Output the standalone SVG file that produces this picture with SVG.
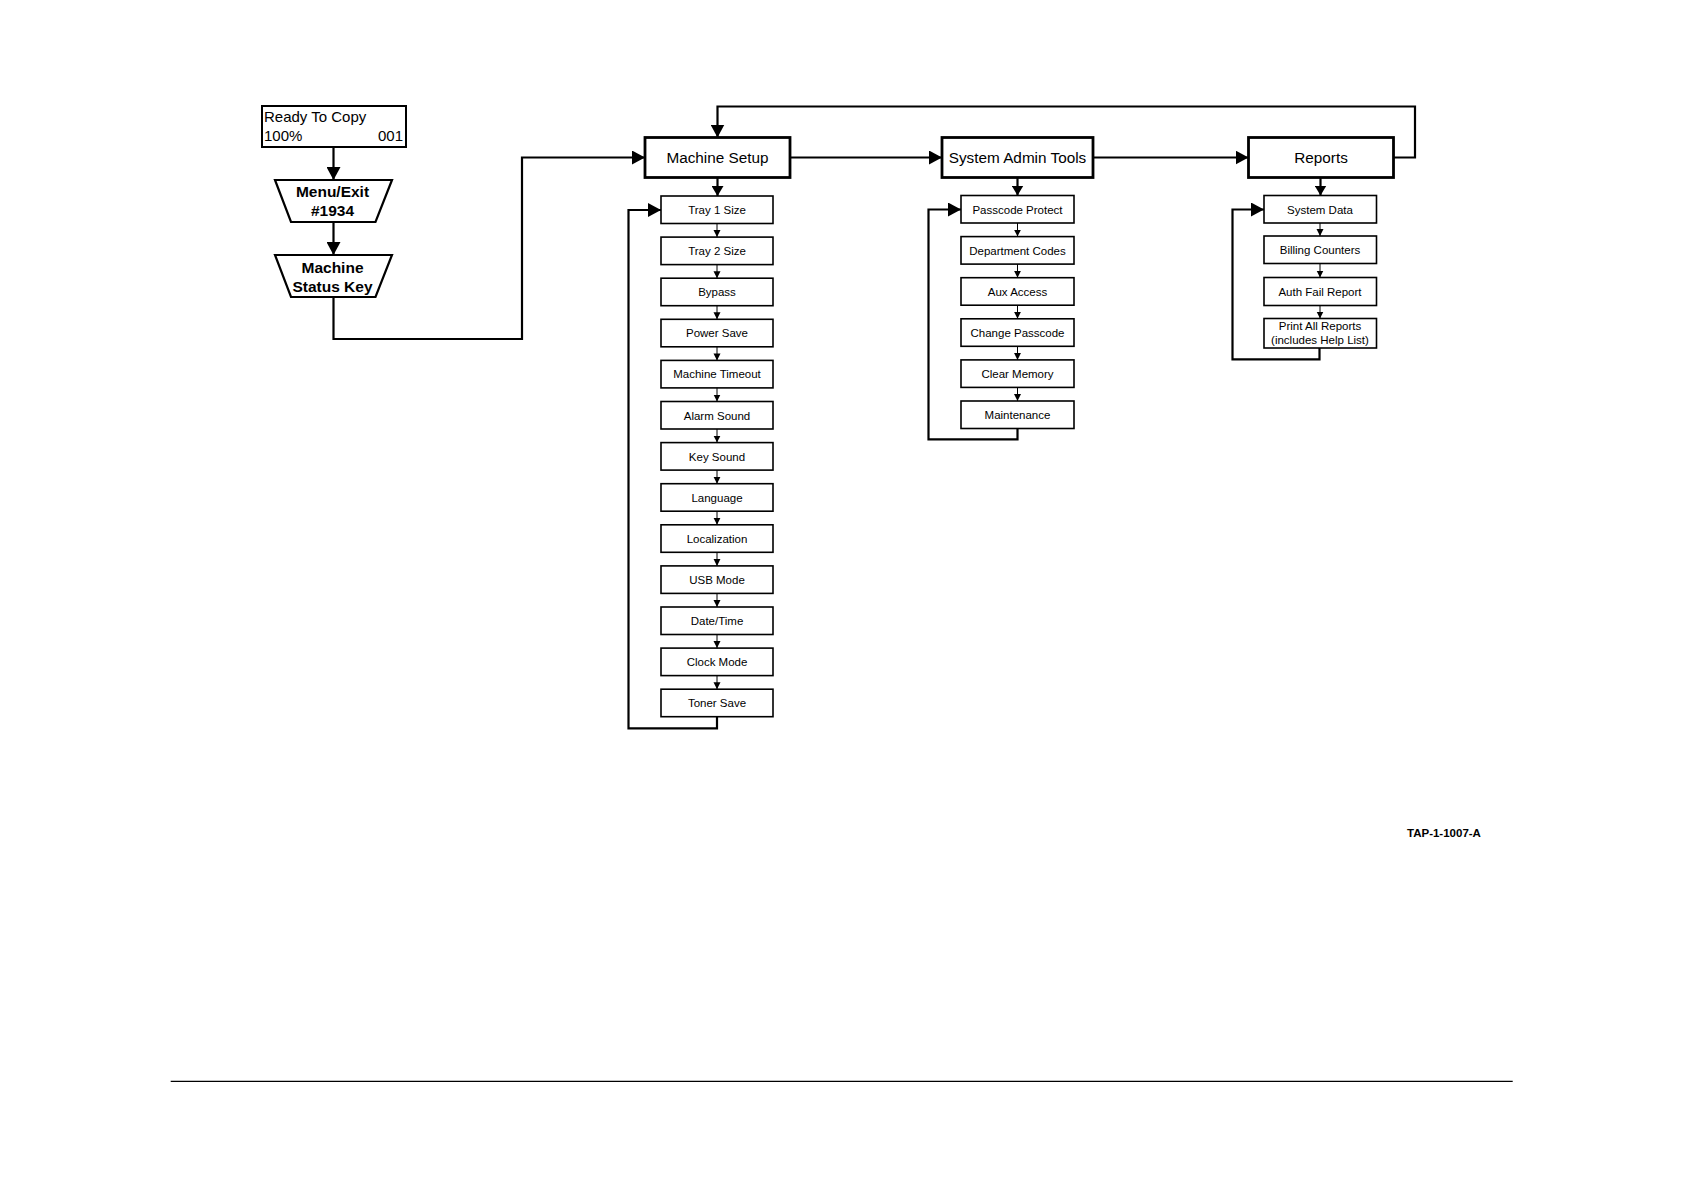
<svg xmlns="http://www.w3.org/2000/svg" width="1684" height="1190" viewBox="0 0 1684 1190">
<style>
text{font-family:"Liberation Sans",Arial,sans-serif;fill:#000}
.main rect{fill:#fff;stroke:#000;stroke-width:2.8}
.sub rect{fill:#fff;stroke:#000;stroke-width:1.6}
.sub text{font-size:11.5px;text-anchor:middle}
.main text{font-size:15.3px;text-anchor:middle}
.trap path{fill:#fff;stroke:#000;stroke-width:2.2}
.trap text{font-size:15.5px;font-weight:bold;text-anchor:middle}
.big{fill:none;stroke:#000;stroke-width:2.2;marker-end:url(#ab)}
.med{fill:none;stroke:#000;stroke-width:2.2;marker-end:url(#am)}
.sm{fill:none;stroke:#000;stroke-width:1;marker-end:url(#as)}
</style>
<defs>
<marker id="ab" markerUnits="userSpaceOnUse" markerWidth="14" markerHeight="14" refX="13" refY="7" orient="auto"><path d="M0,0 L13,7 L0,14 z" fill="#000"/></marker>
<marker id="am" markerUnits="userSpaceOnUse" markerWidth="12" markerHeight="12" refX="10" refY="6" orient="auto"><path d="M0,0 L10,6 L0,12 z" fill="#000"/></marker>
<marker id="as" markerUnits="userSpaceOnUse" markerWidth="8" markerHeight="8" refX="7" refY="3.5" orient="auto"><path d="M0,0 L7,3.5 L0,7 z" fill="#000"/></marker>
</defs>

<g id="ready">
<rect x="262" y="106" width="144" height="41" fill="#fff" stroke="#000" stroke-width="2"/>
<text x="264" y="122" font-size="15">Ready To Copy</text>
<text x="264" y="141" font-size="15">100%</text>
<text x="403" y="141" font-size="15" text-anchor="end">001</text>
</g>
<g id="menu-exit" class="trap">
<path d="M275,180 L392,180 L375.5,222 L291,222 z"/>
<text x="332.5" y="197">Menu/Exit</text>
<text x="332.5" y="216">#1934</text>
</g>
<g id="machine-status-key" class="trap">
<path d="M275,255 L392,255 L375.5,297 L291,297 z"/>
<text x="332.5" y="273">Machine</text>
<text x="332.5" y="292">Status Key</text>
</g>

<g id="machine-setup" class="main"><rect x="645" y="137.5" width="145" height="40"/><text x="717.5" y="163">Machine Setup</text></g>
<g id="system-admin-tools" class="main"><rect x="942" y="137.5" width="151" height="40"/><text x="1017.5" y="163">System Admin Tools</text></g>
<g id="reports" class="main"><rect x="1248.5" y="137.5" width="145" height="40"/><text x="1321" y="163">Reports</text></g>

<g id="ms-items" class="sub">
<g id="tray1"><rect x="661" y="196" width="112" height="27.5"/><text x="717" y="214">Tray 1 Size</text></g>
<g id="tray2"><rect x="661" y="237.1" width="112" height="27.5"/><text x="717" y="255.1">Tray 2 Size</text></g>
<g id="bypass"><rect x="661" y="278.2" width="112" height="27.5"/><text x="717" y="296.2">Bypass</text></g>
<g id="power-save"><rect x="661" y="319.3" width="112" height="27.5"/><text x="717" y="337.3">Power Save</text></g>
<g id="machine-timeout"><rect x="661" y="360.4" width="112" height="27.5"/><text x="717" y="378.4">Machine Timeout</text></g>
<g id="alarm-sound"><rect x="661" y="401.5" width="112" height="27.5"/><text x="717" y="419.5">Alarm Sound</text></g>
<g id="key-sound"><rect x="661" y="442.6" width="112" height="27.5"/><text x="717" y="460.6">Key Sound</text></g>
<g id="language"><rect x="661" y="483.7" width="112" height="27.5"/><text x="717" y="501.7">Language</text></g>
<g id="localization"><rect x="661" y="524.8" width="112" height="27.5"/><text x="717" y="542.8">Localization</text></g>
<g id="usb-mode"><rect x="661" y="565.9" width="112" height="27.5"/><text x="717" y="583.9">USB Mode</text></g>
<g id="date-time"><rect x="661" y="607" width="112" height="27.5"/><text x="717" y="625">Date/Time</text></g>
<g id="clock-mode"><rect x="661" y="648.1" width="112" height="27.5"/><text x="717" y="666.1">Clock Mode</text></g>
<g id="toner-save"><rect x="661" y="689.2" width="112" height="27.5"/><text x="717" y="707.2">Toner Save</text></g>
</g>

<g id="sat-items" class="sub">
<g id="passcode-protect"><rect x="961" y="195.5" width="113" height="27.5"/><text x="1017.5" y="213.5">Passcode Protect</text></g>
<g id="department-codes"><rect x="961" y="236.6" width="113" height="27.5"/><text x="1017.5" y="254.6">Department Codes</text></g>
<g id="aux-access"><rect x="961" y="277.7" width="113" height="27.5"/><text x="1017.5" y="295.7">Aux Access</text></g>
<g id="change-passcode"><rect x="961" y="318.8" width="113" height="27.5"/><text x="1017.5" y="336.8">Change Passcode</text></g>
<g id="clear-memory"><rect x="961" y="359.9" width="113" height="27.5"/><text x="1017.5" y="377.9">Clear Memory</text></g>
<g id="maintenance"><rect x="961" y="401" width="113" height="27.5"/><text x="1017.5" y="419">Maintenance</text></g>
</g>

<g id="report-items" class="sub">
<g id="system-data"><rect x="1264" y="195.5" width="112.5" height="27.5"/><text x="1320" y="213.5">System Data</text></g>
<g id="billing-counters"><rect x="1264" y="236" width="112.5" height="27.5"/><text x="1320" y="254">Billing Counters</text></g>
<g id="auth-fail-report"><rect x="1264" y="277.5" width="112.5" height="28"/><text x="1320" y="295.7">Auth Fail Report</text></g>
<g id="print-all-reports"><rect x="1264" y="318.5" width="112.5" height="29.5"/><text x="1320" y="329.5">Print All Reports</text><text x="1320" y="344">(includes Help List)</text></g>
</g>

<g id="connectors">
<path class="big" d="M333.5,147 V180"/>
<path class="big" d="M333.5,222 V255"/>
<path class="big" d="M333.5,297 V339 H522 V157.5 H645"/>
<path class="big" d="M790,157.5 H942"/>
<path class="big" d="M1093,157.5 H1248.5"/>
<path class="big" d="M1393.5,157.5 H1415 V106.5 H717.5 V137.5"/>
<path class="med" d="M717.5,177.5 V196"/>
<path class="med" d="M1017.5,177.5 V195.5"/>
<path class="med" d="M1320.5,177.5 V195.5"/>
<path class="big" d="M717,716.7 V728.3 H628.5 V210 H661"/>
<path class="big" d="M1017.5,428.5 V439.3 H928.5 V209.5 H961"/>
<path class="big" d="M1319.5,348 V359.3 H1232.5 V209.5 H1264"/>
<path class="sm" d="M717,223.5 V237.1"/>
<path class="sm" d="M717,264.6 V278.2"/>
<path class="sm" d="M717,305.7 V319.3"/>
<path class="sm" d="M717,346.8 V360.4"/>
<path class="sm" d="M717,387.9 V401.5"/>
<path class="sm" d="M717,429 V442.6"/>
<path class="sm" d="M717,470.1 V483.7"/>
<path class="sm" d="M717,511.2 V524.8"/>
<path class="sm" d="M717,552.3 V565.9"/>
<path class="sm" d="M717,593.4 V607"/>
<path class="sm" d="M717,634.5 V648.1"/>
<path class="sm" d="M717,675.6 V689.2"/>
<path class="sm" d="M1017.5,223 V236.6"/>
<path class="sm" d="M1017.5,264.1 V277.7"/>
<path class="sm" d="M1017.5,305.2 V318.8"/>
<path class="sm" d="M1017.5,346.3 V359.9"/>
<path class="sm" d="M1017.5,387.4 V401"/>
<path class="sm" d="M1320,223 V236"/>
<path class="sm" d="M1320,263.5 V277.5"/>
<path class="sm" d="M1320,305.5 V318.5"/>
</g>

<text x="1407" y="836.7" font-size="11.5" font-weight="bold">TAP-1-1007-A</text>
<line x1="170.7" y1="1081.3" x2="1512.7" y2="1081.3" stroke="#000" stroke-width="1.3"/>
</svg>
